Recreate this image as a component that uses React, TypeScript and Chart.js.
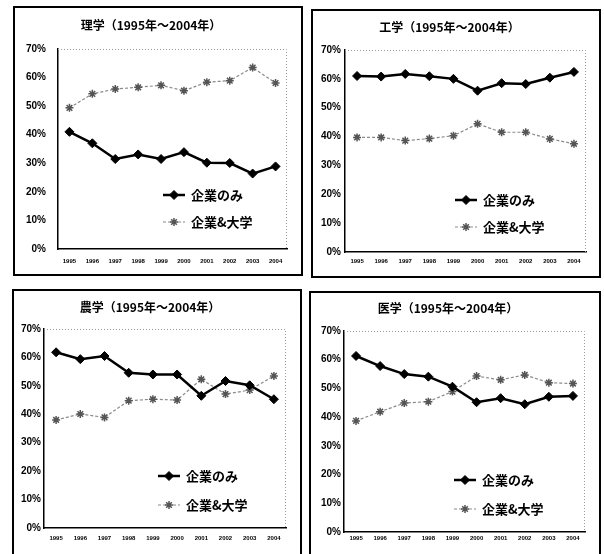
import React, { useEffect, useRef } from "react";
import { Chart, registerables } from "chart.js";
import { drawPoint } from "chart.js/helpers";

Chart.register(...registerables);

// ---- data ----
const years = ["1995", "1996", "1997", "1998", "1999", "2000", "2001", "2002", "2003", "2004"];
const seriesNames = ["企業のみ", "企業&大学"];
const yTicks = [0, 10, 20, 30, 40, 50, 60, 70];

const sciTitle = "理学（1995年～2004年）";
const sciCompany = [41.0, 37.0, 31.5, 33.1, 31.5, 33.9, 30.2, 30.1, 26.4, 28.9];
const sciBoth = [49.4, 54.3, 56.0, 56.6, 57.3, 55.4, 58.4, 58.9, 63.5, 58.1];

const engTitle = "工学（1995年～2004年）";
const engCompany = [61.0, 60.8, 61.7, 60.9, 60.0, 55.9, 58.5, 58.2, 60.4, 62.4];
const engBoth = [39.7, 39.7, 38.6, 39.3, 40.3, 44.4, 41.5, 41.5, 39.2, 37.5];

const agrTitle = "農学（1995年～2004年）";
const agrCompany = [61.8, 59.4, 60.5, 54.6, 54.0, 54.0, 46.5, 51.7, 50.2, 45.3];
const agrBoth = [38.0, 40.1, 38.9, 44.8, 45.3, 45.0, 52.3, 47.1, 48.5, 53.5];

const medTitle = "医学（1995年～2004年）";
const medCompany = [61.3, 57.8, 55.0, 54.1, 50.6, 45.2, 46.6, 44.5, 47.1, 47.4];
const medBoth = [38.7, 41.9, 44.9, 45.4, 48.9, 54.3, 53.0, 54.7, 52.0, 51.7];

// ---- layout ----
type Geo = {
  left: number; top: number; w: number; h: number;
  L: number; R: number; T: number; B: number;
  titleC: number; yPad: number; xGap: number;
  lx: number; ly: number[];
};

const panels: { title: string; company: number[]; both: number[]; geo: Geo }[] = [
  { title: sciTitle, company: sciCompany, both: sciBoth,
    geo: { left: 13, top: 6, w: 290, h: 270, L: 43, R: 272, T: 41, B: 241, titleC: 17, yPad: 12, xGap: 12, lx: 105, ly: [146, 173] } },
  { title: engTitle, company: engCompany, both: engBoth,
    geo: { left: 311, top: 9, w: 290, h: 269, L: 32, R: 273, T: 39, B: 241, titleC: 16, yPad: 4, xGap: 9, lx: 110, ly: [150, 177] } },
  { title: agrTitle, company: agrCompany, both: agrBoth,
    geo: { left: 12, top: 289, w: 290, h: 275, L: 30, R: 272, T: 38, B: 237, titleC: 16, yPad: 3, xGap: 10, lx: 114, ly: [147, 176] } },
  { title: medTitle, company: medCompany, both: medBoth,
    geo: { left: 309, top: 291, w: 292, h: 275, L: 33, R: 274, T: 38, B: 239, titleC: 15, yPad: 3, xGap: 6, lx: 110, ly: [149, 178] } },
];

const BORDER = 2;
const JP = '"Noto Sans CJK JP", "Noto Sans", sans-serif';
const LAT = '"Liberation Sans", Arial, sans-serif';

const plotBorderPlugin = {
  id: "plotBorder",
  afterDatasetsDraw(chart: any) {
    const { ctx, chartArea: a } = chart;
    ctx.save();
    ctx.strokeStyle = "#9a9a9a";
    ctx.lineWidth = 1;
    ctx.setLineDash([1, 2]);
    ctx.beginPath();
    ctx.moveTo(a.left, a.top + 0.5);
    ctx.lineTo(a.right - 0.5, a.top + 0.5);
    ctx.lineTo(a.right - 0.5, a.bottom);
    ctx.stroke();
    ctx.restore();
  },
};

const insideLegendPlugin = {
  id: "insideLegend",
  afterDraw(chart: any, _args: any, opts: any) {
    const { ctx, chartArea: a } = chart;
    chart.data.datasets.forEach((ds: any, i: number) => {
      const y = a.top + opts.ys[i];
      const x0 = a.left + opts.x;
      const len = 22;
      ctx.save();
      ctx.strokeStyle = ds.borderColor;
      ctx.lineWidth = ds.borderWidth;
      ctx.setLineDash(ds.borderDash || []);
      ctx.beginPath();
      ctx.moveTo(x0, y);
      ctx.lineTo(x0 + len, y);
      ctx.stroke();
      ctx.setLineDash([]);
      ctx.fillStyle = ds.pointBackgroundColor;
      ctx.strokeStyle = ds.pointBorderColor;
      ctx.lineWidth = ds.pointBorderWidth;
      drawPoint(ctx, { pointStyle: ds.pointStyle, radius: ds.pointRadius, borderWidth: ds.pointBorderWidth, rotation: 0 }, x0 + len / 2, y);
      ctx.fillStyle = "#000";
      ctx.font = `bold 13px ${JP}`;
      ctx.textBaseline = "middle";
      ctx.textAlign = "left";
      ctx.fillText(ds.label, x0 + len + 6, y);
      ctx.restore();
    });
  },
};

function Panel({ title, company, both, geo }: { title: string; company: number[]; both: number[]; geo: Geo }) {
  const ref = useRef<HTMLCanvasElement | null>(null);
  const iw = geo.w - 2 * BORDER;
  const ih = geo.h - 2 * BORDER;
  useEffect(() => {
    if (!ref.current) return;
    const xh = 24;
    const titleLH = 12 * 1.2;
    const tTop = geo.titleC - titleLH / 2;
    const chart = new Chart(ref.current, {
      type: "line",
      data: {
        labels: years,
        datasets: [
          {
            label: seriesNames[0],
            data: company,
            borderColor: "#000",
            backgroundColor: "#000",
            borderWidth: 2.5,
            pointStyle: "rectRot",
            pointRadius: 4.5,
            pointBackgroundColor: "#000",
            pointBorderColor: "#000",
            pointBorderWidth: 1,
            tension: 0,
          } as any,
          {
            label: seriesNames[1],
            data: both,
            borderColor: "#8a8a8a",
            backgroundColor: "#666",
            borderWidth: 1.2,
            borderDash: [3, 2],
            pointStyle: "star",
            pointRadius: 4,
            pointBackgroundColor: "#666",
            pointBorderColor: "#555",
            pointBorderWidth: 1.5,
            tension: 0,
          } as any,
        ],
      },
      options: {
        responsive: false,
        animation: false,
        devicePixelRatio: 1,
        layout: { padding: { left: 0, top: 0, right: iw - geo.R, bottom: Math.max(0, ih - geo.B - xh) } },
        plugins: {
          legend: { display: false },
          tooltip: { enabled: false },
          title: {
            display: true,
            text: title,
            color: "#000",
            font: { family: JP, size: 12, weight: "bold", lineHeight: 1.2 },
            padding: { top: tTop, bottom: geo.T - tTop - titleLH },
          },
          insideLegend: { x: geo.lx, ys: geo.ly },
        } as any,
        scales: {
          x: {
            type: "category",
            offset: true,
            grid: { display: false, drawTicks: false },
            border: { display: true, color: "#000", width: 1.5 },
            ticks: {
              autoSkip: false,
              maxRotation: 0,
              color: "#000",
              padding: geo.xGap - 3.6,
              font: { family: LAT, size: 6, weight: "bold", lineHeight: 1.2 },
            },
            afterFit: (s: any) => { s.height = xh; },
          },
          y: {
            min: 0,
            max: 70,
            afterBuildTicks: (s: any) => { s.ticks = yTicks.map((v) => ({ value: v })); },
            grid: { display: false, drawTicks: false },
            border: { display: true, color: "#000", width: 1.5 },
            ticks: {
              autoSkip: false,
              color: "#000",
              padding: geo.yPad,
              font: { family: LAT, size: 10, weight: "bold" },
              callback: (v: any) => `${v}%`,
            },
            afterFit: (s: any) => { s.width = geo.L; },
          },
        },
      } as any,
      plugins: [plotBorderPlugin, insideLegendPlugin],
    });
    return () => chart.destroy();
  }, []);
  return (
    <div
      style={{
        position: "absolute",
        left: geo.left,
        top: geo.top,
        width: geo.w,
        height: geo.h,
        boxSizing: "border-box",
        border: `${BORDER}px solid #000`,
        background: "#fff",
      }}
    >
      <canvas ref={ref} width={iw} height={ih} style={{ display: "block", width: iw, height: ih }} />
    </div>
  );
}

export default function App() {
  return (
    <div
      style={{
        position: "fixed",
        left: 0,
        top: 0,
        width: 604,
        height: 554,
        overflow: "hidden",
        background: "#fff",
      }}
    >
      {panels.map((p, i) => (
        <Panel key={i} title={p.title} company={p.company} both={p.both} geo={p.geo} />
      ))}
    </div>
  );
}
